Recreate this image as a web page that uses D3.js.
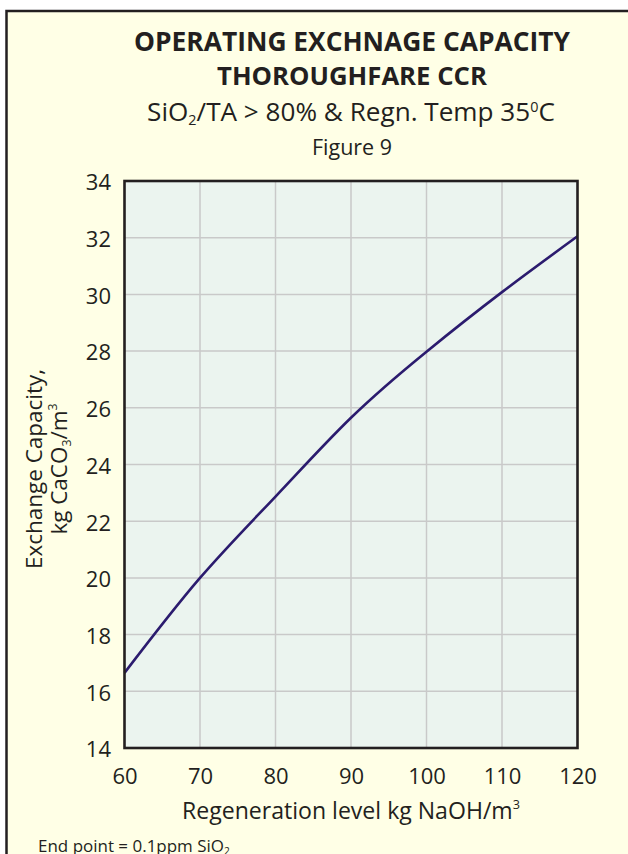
<!DOCTYPE html>
<html>
<head>
<meta charset="utf-8">
<script src="https://cdn.jsdelivr.net/npm/d3@7"></script>
<style>
  html, body { margin: 0; padding: 0; background: #ffffff; }
  svg { display: block; }
  text { font-family: "Open Sans", "DejaVu Sans", sans-serif; fill: #231F20; }
</style>
</head>
<body>
<script>
// ---- data ----
const regenLevels = [60, 70, 80, 90, 100, 110, 120];
const exchangeCapacity = [16.65, 20.0, 22.87, 25.65, 27.98, 30.08, 32.05];
const xTicks = [60, 70, 80, 90, 100, 110, 120];
const yTicks = [14, 16, 18, 20, 22, 24, 26, 28, 30, 32, 34];
const titleLines = ["OPERATING EXCHNAGE CAPACITY", "THOROUGHFARE CCR"];
const figureLabel = "Figure 9";

const W = 628, H = 854;
const plot = { left: 124.5, right: 577.5, top: 181, bottom: 748 };

const svg = d3.select("body").append("svg").attr("width", W).attr("height", H);

// page frame
svg.append("rect").attr("x", 0).attr("y", 0).attr("width", W).attr("height", H).attr("fill", "#ffffff");
svg.append("rect").attr("x", 6.5).attr("y", 11).attr("width", W + 20).attr("height", H + 20)
  .attr("fill", "#FFFFE6").attr("stroke", "#231F20").attr("stroke-width", 2.5);

function fit(sel, target) {
  const w = sel.node().getComputedTextLength();
  const fs = parseFloat(sel.attr("font-size"));
  sel.attr("font-size", (fs * target / w).toFixed(2));
}

const cx = 352;
// titles
const t1 = svg.append("text").attr("x", cx).attr("y", 51).attr("text-anchor", "middle")
  .attr("font-size", 22).attr("font-weight", "bold").text(titleLines[0]);
fit(t1, 436);
const t2 = svg.append("text").attr("x", cx).attr("y", 85).attr("text-anchor", "middle")
  .attr("font-size", 22).attr("font-weight", "bold").text(titleLines[1]);
fit(t2, 270);

const sub = svg.append("text").attr("x", 351).attr("y", 121).attr("text-anchor", "middle").attr("font-size", 22);
sub.append("tspan").text("SiO");
sub.append("tspan").attr("font-size", "0.55em").attr("dy", 4).text("2");
sub.append("tspan").attr("dy", -4).text("/TA > 80% & Regn. Temp 35");
sub.append("tspan").attr("font-size", "0.55em").attr("dy", -9).text("0");
sub.append("tspan").attr("dy", 9).text("C");
fit(sub, 408);

const fig = svg.append("text").attr("x", 352).attr("y", 155).attr("text-anchor", "middle")
  .attr("font-size", 18).text(figureLabel);
fit(fig, 80);

// scales
const x = d3.scaleLinear().domain([60, 120]).range([plot.left, plot.right]);
const y = d3.scaleLinear().domain([14, 34]).range([plot.bottom, plot.top]);

// plot background
svg.append("rect").attr("x", plot.left).attr("y", plot.top)
  .attr("width", plot.right - plot.left).attr("height", plot.bottom - plot.top)
  .attr("fill", "#EBF4EF");

// grid
svg.append("g").selectAll("line").data(xTicks.slice(1, -1)).join("line")
  .attr("x1", d => x(d)).attr("x2", d => x(d)).attr("y1", plot.top).attr("y2", plot.bottom)
  .attr("stroke", "#C9C9C9").attr("stroke-width", 1.5);
svg.append("g").selectAll("line").data(yTicks.slice(1, -1)).join("line")
  .attr("y1", d => y(d)).attr("y2", d => y(d)).attr("x1", plot.left).attr("x2", plot.right)
  .attr("stroke", "#C9C9C9").attr("stroke-width", 1.5);

// curve
const line = d3.line().x((d, i) => x(regenLevels[i])).y(d => y(d)).curve(d3.curveNatural);
svg.append("path").datum(exchangeCapacity).attr("d", line)
  .attr("fill", "none").attr("stroke", "#2B1B6E").attr("stroke-width", 2.6);

// plot border
svg.append("rect").attr("x", plot.left).attr("y", plot.top)
  .attr("width", plot.right - plot.left).attr("height", plot.bottom - plot.top)
  .attr("fill", "none").attr("stroke", "#231F20").attr("stroke-width", 2.6);

// axes (tick labels only)
const xAxis = d3.axisBottom(x).tickValues(xTicks).tickSize(0).tickPadding(0).tickFormat(d3.format("d"));
const gx = svg.append("g").attr("transform", `translate(0,${plot.bottom})`).call(xAxis);
gx.select(".domain").remove();
gx.selectAll("text").attr("font-size", 22).attr("font-family", null).attr("fill", "#231F20")
  .attr("dy", null).attr("y", 36);

const yAxis = d3.axisLeft(y).tickValues(yTicks).tickSize(0).tickPadding(0).tickFormat(d3.format("d"));
const gy = svg.append("g").attr("transform", `translate(111,0)`).call(yAxis);
gy.select(".domain").remove();
gy.selectAll("text").attr("font-size", 22).attr("font-family", null).attr("fill", "#231F20")
  .attr("dy", "0.4em").attr("x", 0);

// x axis title
const xt = svg.append("text").attr("x", 351).attr("y", 819).attr("text-anchor", "middle").attr("font-size", 22);
xt.append("tspan").text("Regeneration level kg NaOH/m");
xt.append("tspan").attr("font-size", "0.55em").attr("dy", -10).text("3");
fit(xt, 338);

// y axis title
const yt1 = svg.append("text").attr("transform", "translate(42,469) rotate(-90)")
  .attr("text-anchor", "middle").attr("font-size", 20).text("Exchange Capacity,");
fit(yt1, 200);
const yfs = yt1.attr("font-size");
const yt2 = svg.append("text").attr("transform", "translate(67,469) rotate(-90)")
  .attr("text-anchor", "middle").attr("font-size", yfs);
yt2.append("tspan").text("kg CaCO");
yt2.append("tspan").attr("font-size", "0.55em").attr("dy", 4).text("3");
yt2.append("tspan").attr("dy", -4).text("/m");
yt2.append("tspan").attr("font-size", "0.55em").attr("dy", -10).text("3");

// footnote
const fn = svg.append("text").attr("x", 38).attr("y", 852).attr("font-size", 15);
fn.append("tspan").text("End point = 0.1ppm SiO");
fn.append("tspan").attr("font-size", "0.6em").attr("dy", 3).text("2");
fit(fn, 192);
</script>
</body>
</html>
